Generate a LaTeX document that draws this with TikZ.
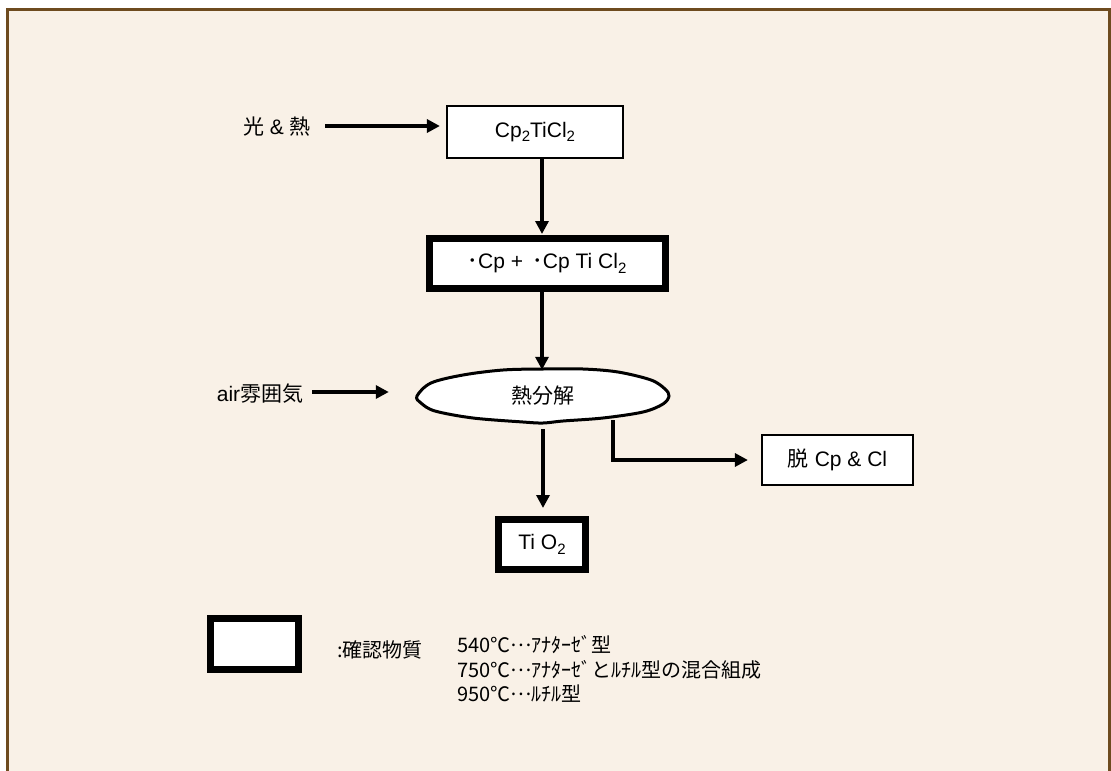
\documentclass[tikz,border=0pt]{standalone}
\usepackage{fontspec}
\setmainfont{Liberation Sans}
\newfontfamily\jp{Noto Sans CJK JP}
\usetikzlibrary{arrows.meta}
\definecolor{bgbeige}{HTML}{F9F1E7}
\definecolor{framebrown}{HTML}{6E4B1F}
\newcommand\subtwo[1]{\raisebox{-4.5pt}{\fontsize{15}{15}\selectfont #1}}
\newcommand\middots{\raisebox{6pt}{…}}
\begin{document}
\begin{tikzpicture}[x=1pt,y=-1pt,
  flow/.style={line width=4pt,-{Triangle[length=13pt,width=13pt]}},
  thinbox/.style={draw,fill=white,line width=2.2pt,inner sep=0pt,font=\fontsize{21}{25}\selectfont},
  thickbox/.style={draw,fill=white,line width=7pt,inner sep=0pt,font=\fontsize{21}{25}\selectfont},
  lbl/.style={inner sep=0pt,font=\fontsize{21}{25}\selectfont},
  legend/.style={inner sep=0pt,anchor=west,font=\jp\fontsize{20}{24}\selectfont}]
\useasboundingbox (0,0) rectangle (1111,771);
\fill[white] (0,0) rectangle (1111,771);
\draw[framebrown,fill=bgbeige,line width=3pt] (7.5,9.5) rectangle (1109,790);

% nodes
\node[thinbox,minimum width=176pt,minimum height=52pt] (cp) at (535,132) {Cp\subtwo{2}TiCl\subtwo{2}};
\node[thickbox,minimum width=236pt,minimum height=50pt] (rad) at (547,263.5) {{\jp ･}Cp + \,{\jp ･}Cp Ti Cl\subtwo{2}};
\fill[white,draw=black,line width=3pt] plot[smooth cycle,tension=0.55] coordinates {
  (417,396) (431,383) (463,375) (503,370) (543,369) (583,369) (618,372) (651,380) (665,389) (669,396)
  (663,404) (643,412) (603,418) (563,421) (543,423) (523,422) (473,418) (435,411) (421,403)};
\node[lbl,font=\jp\fontsize{21}{25}\selectfont,minimum width=252pt,minimum height=54pt] (dec) at (543,396) {熱分解};
\node[thickbox,minimum width=87pt,minimum height=50pt] (tio) at (542,544.5) {Ti O\subtwo{2}};
\node[thinbox,minimum width=151pt,minimum height=50pt] (dep) at (837.5,460) {{\jp 脱} Cp \& Cl};
\node[thickbox,minimum width=88pt,minimum height=51pt] (leg) at (254.5,644) {};

\node[lbl] (light) at (277,127) {{\jp 光} \& {\jp 熱}};
\node[lbl] (air) at (260,394) {air{\jp 雰囲気}};

\node[legend] (conf) at (337,650) {:確認物質};
\node[legend] (t1) at (457,645) {540℃\middots ｱﾅﾀｰｾﾞ型};
\node[legend] (t2) at (457,670) {750℃\middots ｱﾅﾀｰｾﾞとﾙﾁﾙ型の混合組成};
\node[legend] (t3) at (457,694) {950℃\middots ﾙﾁﾙ型};

% connectors
\coordinate (ax) at (542,0);
\coordinate (bx) at (543,0);
\coordinate (el) at (613,420);
\draw[flow,shorten <=14pt,shorten >=6pt] (light.east |- 0,126) -- (cp.west |- 0,126);
\draw[flow,shorten >=1pt] (cp.south -| ax) -- (rad.north -| ax);
\draw[flow,shorten >=-1pt] (rad.south -| ax) -- (dec.north -| ax);
\draw[flow,shorten <=9pt,shorten >=28pt] (air.east |- 0,392) -- (dec.west |- 0,392);
\draw[flow,shorten <=6pt,shorten >=8pt] (dec.south -| bx) -- (tio.north -| bx);
\draw[line width=3.2pt,-{Triangle[length=13pt,width=13pt]},shorten >=13pt] (el) |- (dep.west);
\end{tikzpicture}
\end{document}
